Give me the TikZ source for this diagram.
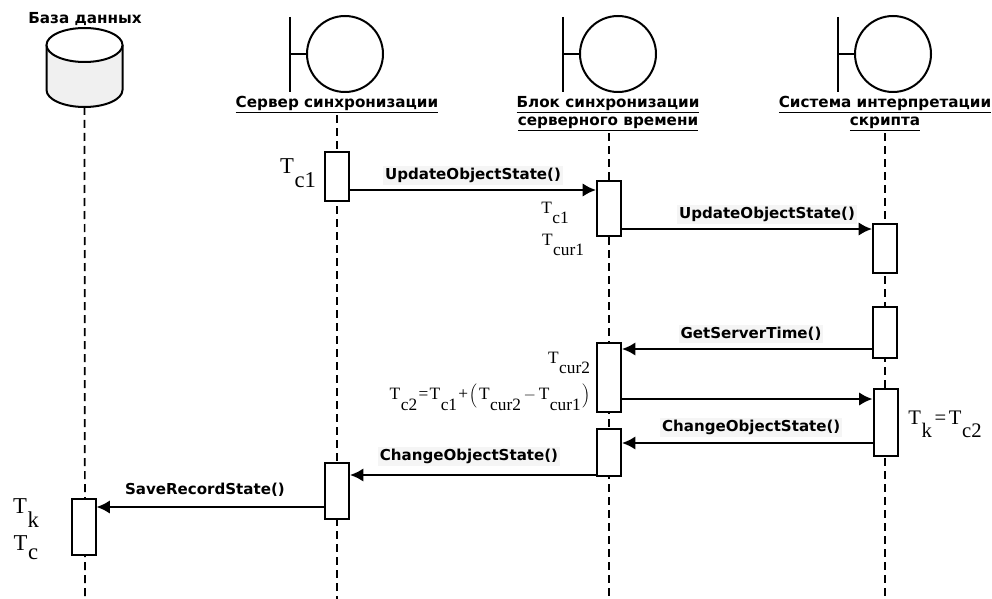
\documentclass[tikz,border=0pt]{standalone}
\usepackage{fontspec}
\setmainfont{Liberation Serif}
\newfontfamily\labelfont{DejaVu Sans Bold}
\usetikzlibrary{arrows.meta,shapes.geometric}

\newcommand{\tsub}[2][0.62em]{T\kern0.03em\raisebox{-#1}{#2}}

\begin{document}
\begin{tikzpicture}[
        x=0.75pt,
        y=-0.75pt,
        actor/.style={
            draw,
            circle,
            line width=1.5pt,
            minimum size=57pt,
            inner sep=0pt
        },
        actorname/.style={
            align=center,
            font=\labelfont\fontsize{11.4}{13.5}\selectfont,
            inner sep=1pt
        },
        activation/.style={
            rectangle,
            draw,
            fill=white,
            line width=1.5pt,
            minimum width=18pt,
            inner sep=0pt
        },
        lifeline/.style={
            line width=1.3pt,
            dash pattern=on 6pt off 3.75pt
        },
        msg/.style={
            -{Latex[length=10pt,width=10pt]},
            line width=1.5pt
        },
        msgname/.style={
            fill=black!4,
            font=\labelfont\fontsize{11.3}{12}\selectfont,
            inner sep=1.5pt
        },
        timestamp/.style={
            font=\fontsize{#1}{#1}\selectfont,
            inner sep=0pt
        }
    ]

        \useasboundingbox (0,0) rectangle (992,599);

        % heads
        \node[actorname] (dbname) at (85,19) {База данных};
        \coordinate (dbbottom) at (84.5,107);
        \draw[line width=1.5pt, fill=black!6] (46.5,45) -- (46.5,90) arc (180:360:28.5pt and 12.75pt) -- (122.5,45);
        \node[ellipse, draw, fill=white, line width=1.5pt, minimum width=57pt, minimum height=25.5pt, inner sep=0pt] (dbtop) at (84.5,45) {};

        \node[actor] (srvhead) at (345,54) {};
        \node[actor] (blkhead) at (618,54) {};
        \node[actor] (scrhead) at (893,54) {};
        \foreach \who/\xbar in {srv/290,blk/563,scr/838}{
            \coordinate (\who top) at (\xbar,17);
            \coordinate (\who bottom) at (\xbar,92);
            \coordinate (\who mid) at (\xbar,54);
            \draw[line width=1.5pt] (\who top) -- (\who bottom);
            \draw[line width=1.5pt] (\who mid) -- (\who head.west);
        }

        \node[actorname] (srvname) at (337,105) {\underline{Сервер синхронизации}};
        \node[actorname] (blkname) at (608,114) {\underline{Блок синхронизации}\\\underline{серверного времени}};
        \node[actorname] (scrname) at (885,114) {\underline{Система интерпретации}\\\underline{скрипта}};

        % lifelines
        \coordinate (dbend) at (85,599);
        \coordinate (srvend) at (337,599);
        \coordinate (blkend) at (609,599);
        \coordinate (scrend) at (885,599);
        \draw[lifeline] (dbbottom) -- (dbend);
        \draw[lifeline] (srvname.south) -- (srvend);
        \draw[lifeline] (blkname.south -| blkend) -- (blkend);
        \draw[lifeline] (scrname.south) -- (scrend);

        % activations
        \node[activation, minimum height=36.75pt] (srva) at (337,176.5) {};
        \node[activation, minimum height=42pt] (srvb) at (337,491) {};
        \node[activation, minimum height=42pt] (dba) at (83.5,527) {};
        \node[activation, minimum height=41.25pt] (blka) at (609,208.5) {};
        \node[activation, minimum height=52pt] (blkb) at (609,377.5) {};
        \node[activation, minimum height=35.25pt] (blkc) at (609,452.5) {};
        \node[activation, minimum height=36.75pt] (scra) at (885,248.5) {};
        \node[activation, minimum height=38.25pt] (scrb) at (885,332.5) {};
        \node[activation, minimum height=50.25pt] (scrc) at (885.5,422.5) {};

        % messages
        \draw[msg] (srva.east |- 0,190) -- node[msgname, above=3pt] (upda) {UpdateObjectState()} (blka.west |- 0,190);
        \draw[msg] (blka.east |- 0,229) -- node[msgname, above=3pt, xshift=15pt] (updb) {UpdateObjectState()} (scra.west |- 0,229);
        \draw[msg] (scrb.west |- 0,349) -- node[msgname, above=4pt, xshift=3pt] (gettime) {GetServerTime()} (blkb.east |- 0,349);
        \draw[msg] (blkb.east |- 0,399) -- (scrc.west |- 0,399);
        \draw[msg] (scrc.west |- 0,443) -- node[msgname, above=4pt, xshift=3pt] (chga) {ChangeObjectState()} (blkc.east |- 0,443);
        \draw[msg] (blkc.west |- 0,475) -- node[msgname, above=6pt, xshift=-3pt] (chgb) {ChangeObjectState()} (srvb.east |- 0,475);
        \draw[msg] (srvb.west |- 0,507) -- node[msgname, fill=none, above=6pt, xshift=-4pt] (save) {SaveRecordState()} (dba.east |- 0,507);

        % times
        \node[timestamp=17] (tca) at (298,173) {\tsub{c1}};
        \node[timestamp=13] (tcb) at (555,213) {\tsub{c1}};
        \node[timestamp=13] (tcura) at (563,245) {\tsub{cur1}};
        \node[timestamp=13] (tcurb) at (569,363) {\tsub{cur2}};
        \node[timestamp=13] (tcc) at (490,397) {\tsub{c2}\kern1pt=\kern1pt\tsub{c1}\kern1pt+\kern1pt$\left(\rule{0pt}{0.85em}\right.$\tsub{cur2}\kern2pt$-$\kern2pt\tsub{cur1}$\left.\rule{0pt}{0.85em}\right)$};
        \node[timestamp=15.5] (tk) at (945,424) {\tsub{k}\kern2pt=\kern2pt\tsub{c2}};
        \node[timestamp=17] (tkb) at (26,513) {\tsub{k}};
        \node[timestamp=17] (tcd) at (26,548) {\tsub[0.4em]{c}};

    \end{tikzpicture}
\end{document}
